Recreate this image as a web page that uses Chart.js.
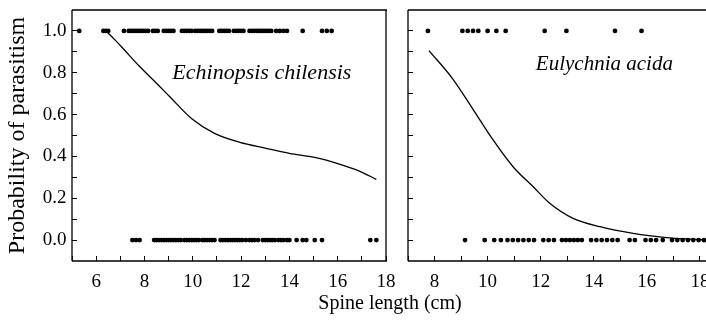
<!DOCTYPE html>
<html>
<head>
<meta charset="utf-8">
<script src="https://cdn.jsdelivr.net/npm/chart.js@4.4.1/dist/chart.umd.min.js"></script>
<style>
  body { margin: 0; background: #fff; }
  #wrap { position: relative; width: 706px; height: 325px; overflow: hidden; }
  #c1 { position: absolute; left: 0; top: 0; z-index: 1; }
  #c2 { position: absolute; left: 400px; top: 0; z-index: 2; }
  #c3 { position: absolute; left: 0; top: 0; z-index: 5; }
</style>
</head>
<body>
<div id="wrap">
  <canvas id="c1" width="706" height="325"></canvas>
  <canvas id="c2" width="306" height="325"></canvas>
  <canvas id="c3" width="706" height="325"></canvas>
</div>
<script>
// Echinopsis chilensis - parasitised (1) and not parasitised (0) plants, spine length in cm
const echParasitised = [5.3, 6.3, 6.4, 6.5, 7.15, 7.35, 7.45, 7.55, 7.65, 7.75, 7.85, 7.95, 8.05, 8.15, 8.35, 8.45, 8.55,
  8.8, 8.9, 9.0, 9.1, 9.2, 9.55, 9.65, 9.75, 9.85, 9.95, 10.1, 10.2, 10.3, 10.4, 10.5, 10.6, 10.7, 10.8,
  11.1, 11.2, 11.3, 11.4, 11.5, 11.7, 11.8, 11.9, 12.0, 12.1, 12.35, 12.45, 12.55, 12.65, 12.75, 12.85,
  12.95, 13.05, 13.15, 13.25, 13.45, 13.6, 13.75, 13.9, 14.55, 15.35, 15.55, 15.75];
const echFree = [7.5, 7.65, 7.8, 8.4, 8.5, 8.6, 8.7, 8.8, 8.9, 9.0, 9.1, 9.2, 9.3, 9.4, 9.5, 9.65, 9.75, 9.85,
  9.95, 10.05, 10.15, 10.25, 10.4, 10.5, 10.6, 10.7, 10.8, 10.9, 11.15, 11.25, 11.35, 11.45, 11.55, 11.65,
  11.75, 11.85, 11.95, 12.05, 12.2, 12.35, 12.45, 12.55, 12.7, 12.9, 13.0, 13.1, 13.2, 13.3, 13.4, 13.55,
  13.65, 13.75, 13.9, 14.0, 14.3, 14.55, 14.7, 15.05, 15.35, 17.35, 17.6];
const echCurveX = [6.4, 6.8, 7.2, 7.8, 8.5, 9.05, 9.96, 10.9, 11.95, 13.0, 14.0, 15.05, 16.1, 16.9, 17.6];
const echCurveY = [1.0, 0.955, 0.905, 0.83, 0.75, 0.685, 0.58, 0.51, 0.467, 0.44, 0.415, 0.395, 0.362, 0.33, 0.29];

// Eulychnia acida
const eulParasitised = [7.75, 9.05, 9.25, 9.45, 9.65, 10.0, 10.33, 10.68, 12.15, 12.97, 14.8, 15.8];
const eulFree = [9.15, 9.89, 10.25, 10.5, 10.75, 10.95, 11.15, 11.35, 11.55, 11.75, 12.1, 12.3, 12.5, 12.8,
  12.95, 13.1, 13.25, 13.4, 13.55, 13.9, 14.1, 14.3, 14.5, 14.7, 14.9, 15.35, 15.55, 15.95, 16.15, 16.35,
  16.6, 16.95, 17.15, 17.35, 17.55, 17.75, 17.95, 18.15];
const eulCurveX = [7.79, 8.69, 9.45, 10.2, 10.95, 11.71, 12.34, 13.22, 14.23, 15.48, 16.74, 18.0, 18.2];
const eulCurveY = [0.906, 0.77, 0.625, 0.48, 0.352, 0.256, 0.176, 0.104, 0.064, 0.032, 0.012, 0.002, 0.0];

// axis ticks (every unit / every 0.1, labels on every second one)
const xTicksLeft = [5, 6, 7, 8, 9, 10, 11, 12, 13, 14, 15, 16, 17, 18];
const xTicksRight = [7, 8, 9, 10, 11, 12, 13, 14, 15, 16, 17, 18];
const yTicks = [0, 0.1, 0.2, 0.3, 0.4, 0.5, 0.6, 0.7, 0.8, 0.9, 1.0];
const yTickLabels = ['0.0', '', '0.2', '', '0.4', '', '0.6', '', '0.8', '', '1.0'];

const serif = "'Liberation Serif', 'Times New Roman', serif";

// x tick labels on every second tick, placed with the chart's own x scale
function drawXLabels(ctx, chart, ticks, offsetX) {
  const xs = chart.scales.x;
  ctx.save();
  ctx.fillStyle = '#000';
  ctx.textAlign = 'center';
  ctx.textBaseline = 'alphabetic';
  ctx.font = '19px ' + serif;
  ticks.forEach(v => {
    if (v % 2 === 0) ctx.fillText(String(v), offsetX + xs.getPixelForValue(v), chart.chartArea.bottom + 26);
  });
  ctx.restore();
}

// plot frame, species name (and the shared x title on the first canvas)
const frame = {
  id: 'frame',
  afterDraw(chart, args, opts) {
    const { ctx, chartArea: a } = chart;
    const xs = chart.scales.x, ys = chart.scales.y;
    ctx.save();
    ctx.strokeStyle = '#000';
    ctx.lineWidth = 1.3;
    ctx.beginPath();
    ctx.moveTo(a.left, a.top); ctx.lineTo(a.left, a.bottom);
    ctx.moveTo(a.left, a.bottom); ctx.lineTo(a.right + 1, a.bottom);
    ctx.moveTo(a.left, a.top); ctx.lineTo(a.right + 1, a.top);
    if (opts.right) { ctx.moveTo(a.right, a.top); ctx.lineTo(a.right, a.bottom); }
    ctx.stroke();

    ctx.fillStyle = '#000';
    ctx.textAlign = 'center';
    ctx.textBaseline = 'middle';
    ctx.font = 'italic ' + opts.label[3] + 'px ' + serif;
    ctx.fillText(opts.label[0], xs.getPixelForValue(opts.label[1]), ys.getPixelForValue(opts.label[2]));

    if (opts.xTitle) {
      ctx.textBaseline = 'alphabetic';
      ctx.font = '20px ' + serif;
      ctx.fillText(opts.xTitle, 390, 309);
    }
    ctx.restore();
  }
};

function pts(xs, y) { return xs.map(v => ({ x: v, y: y })); }
function curve(xs, ys) { return xs.map((v, i) => ({ x: v, y: ys[i] })); }
function noPad(s) { s.paddingLeft = 0; s.paddingRight = 0; s.paddingTop = 0; s.paddingBottom = 0; }

function makeChart(id, d, xTicks, xmin, xmax, yWidth, padRight, showYLabels, label, xTitle) {
  return new Chart(document.getElementById(id), {
    type: 'scatter',
    data: {
      datasets: [
        { data: curve(d.cx, d.cy), showLine: true, borderColor: '#000', borderWidth: 1.3, pointRadius: 0,
          cubicInterpolationMode: 'monotone', fill: false },
        { data: pts(d.top, 1), pointRadius: 2.4, backgroundColor: '#000', borderWidth: 0 },
        { data: pts(d.bottom, 0), pointRadius: 2.4, backgroundColor: '#000', borderWidth: 0 }
      ]
    },
    options: {
      responsive: false,
      animation: false,
      events: [],
      layout: { autoPadding: false, padding: { left: 0, top: 10, right: padRight, bottom: 0 } },
      plugins: { legend: { display: false }, tooltip: { enabled: false },
                 frame: { right: showYLabels, label: label, xTitle: xTitle } },
      scales: {
        x: {
          type: 'linear', min: xmin, max: xmax,
          afterBuildTicks: s => { s.ticks = xTicks.map(v => ({ value: v })); },
          afterFit: s => { s.height = 64; noPad(s); },
          border: { display: false },
          grid: { drawOnChartArea: false, drawTicks: true, tickLength: -5, color: '#000', lineWidth: 1 },
          ticks: { autoSkip: false, maxRotation: 0, callback: () => '' }
        },
        y: {
          type: 'linear', min: -0.1, max: 1.1,
          afterBuildTicks: s => { s.ticks = yTicks.map(v => ({ value: v })); },
          afterFit: s => { s.width = yWidth; noPad(s); },
          border: { display: false },
          grid: { drawOnChartArea: false, drawTicks: true, tickLength: -5, color: '#000', lineWidth: 1 },
          title: { display: showYLabels, text: 'Probability of parasitism', color: '#000',
                   font: { family: serif, size: 24 }, padding: { top: 3.5, bottom: 0 } },
          ticks: {
            autoSkip: false, padding: 10.5, color: '#000',
            font: { family: serif, size: 19 },
            callback: (v, i) => (showYLabels ? yTickLabels[i] : '')
          }
        }
      }
    },
    plugins: [frame]
  });
}

const chartLeft = makeChart('c1', { top: echParasitised, bottom: echFree, cx: echCurveX, cy: echCurveY },
  xTicksLeft, 5, 18, 72, 320, true, ['Echinopsis chilensis', 12.86, 0.80, 22], 'Spine length (cm)');
const chartRight = makeChart('c2', { top: eulParasitised, bottom: eulFree, cx: eulCurveX, cy: eulCurveY },
  xTicksRight, 7, 18.23, 8, 0, false, ['Eulychnia acida', 14.4, 0.84, 21], '');

const overlayCtx = document.getElementById('c3').getContext('2d');
drawXLabels(overlayCtx, chartLeft, xTicksLeft, 0);
drawXLabels(overlayCtx, chartRight, xTicksRight, 400);
</script>
</body>
</html>
